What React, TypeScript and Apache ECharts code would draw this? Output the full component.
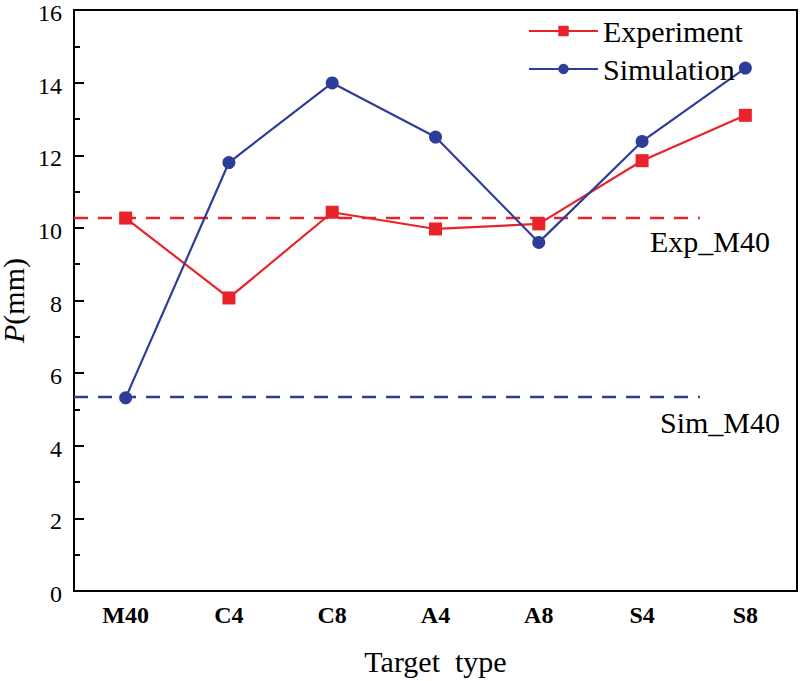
import React, { useEffect, useRef } from "react";
import * as echarts from "echarts";

const categories = ["M40", "C4", "C8", "A4", "A8", "S4", "S8"];
const experiment = [10.27, 8.07, 10.43, 9.97, 10.11, 11.85, 13.1];
const simulation = [5.32, 11.8, 13.99, 12.5, 9.6, 12.38, 14.4];
const expM40 = 10.27;
const simM40 = 5.34;
const refLineEnd = 5.56; // category position where reference lines stop
const yTicks = { min: 0, max: 16, interval: 2 };

const FONT = "'Liberation Serif', 'Times New Roman', serif";
const RED = "#e8232a";
const BLUE = "#2e3d98";

export default function App() {
  const ref = useRef<HTMLDivElement>(null);
  useEffect(() => {
    if (!ref.current) return;
    const chart = echarts.init(ref.current, null, { renderer: "svg" });
    chart.setOption({
      animation: false,
      backgroundColor: "#ffffff",
      grid: {
        left: 74,
        top: 10,
        right: 5,
        bottom: 90,
        containLabel: false,
        outerBoundsMode: "none",
        show: true,
        borderColor: "#000",
        borderWidth: 2,
      },
      legend: {
        data: ["Experiment", "Simulation"],
        orient: "vertical",
        left: 528,
        top: 16,
        itemWidth: 69,
        itemHeight: 13,
        itemGap: 8,
        padding: 0,
        textStyle: { fontFamily: FONT, fontSize: 30, color: "#000", lineHeight: 28 },
      },
      xAxis: [
        {
          type: "category",
          data: categories,
          boundaryGap: true,
          name: "Target  type",
          nameLocation: "middle",
          nameGap: 55,
          nameMoveOverlap: false,
          nameTextStyle: { fontFamily: FONT, fontSize: 30, color: "#000" },
          axisLine: { onZero: false, lineStyle: { color: "#000", width: 2 } },
          axisTick: { alignWithLabel: true, inside: true, length: 10, lineStyle: { color: "#000", width: 2 } },
          axisLabel: { fontFamily: FONT, fontSize: 24, fontWeight: "bold", color: "#000", margin: 12 },
          splitLine: { show: false },
        },
        {
          type: "value",
          min: -0.5,
          max: 6.5,
          show: false,
          position: "bottom",
        },
      ],
      yAxis: {
        type: "value",
        min: yTicks.min,
        max: yTicks.max,
        interval: yTicks.interval,
        name: "{i|P}(mm)",
        nameLocation: "middle",
        nameGap: 46,
        nameMoveOverlap: false,
        nameRotate: 90,
        nameTextStyle: {
          fontFamily: FONT,
          fontSize: 30,
          color: "#000",
          rich: { i: { fontFamily: FONT, fontSize: 30, fontStyle: "italic", color: "#000" } },
        },
        axisLine: { show: true, onZero: false, lineStyle: { color: "#000", width: 2 } },
        axisTick: { inside: true, length: 10, lineStyle: { color: "#000", width: 2 } },
        minorTick: { show: true, splitNumber: 2, length: 6, lineStyle: { color: "#000", width: 2 } },
        axisLabel: {
          fontFamily: FONT,
          fontSize: 24,
          color: "#000",
          margin: 12,
          formatter: "{a|{value}}",
          rich: { a: { fontFamily: FONT, fontSize: 24, color: "#000", padding: [6, 0, 0, 0] } },
        },
        splitLine: { show: false },
      },
      series: [
        {
          name: "Exp_M40",
          type: "line",
          xAxisIndex: 1,
          data: [[-0.5, expM40], [refLineEnd, expM40]],
          symbol: "none",
          lineStyle: { color: RED, width: 2.5, type: [14, 10] },
          z: 1,
        },
        {
          name: "Sim_M40",
          type: "line",
          xAxisIndex: 1,
          data: [[-0.5, simM40], [refLineEnd, simM40]],
          symbol: "none",
          lineStyle: { color: BLUE, width: 2.5, type: [14, 10] },
          z: 1,
        },
        {
          name: "Experiment",
          type: "line",
          data: experiment,
          symbol: "rect",
          symbolSize: 13,
          itemStyle: { color: RED },
          lineStyle: { color: RED, width: 2.2 },
          z: 3,
        },
        {
          name: "Simulation",
          type: "line",
          data: simulation,
          symbol: "circle",
          symbolSize: 13,
          itemStyle: { color: BLUE },
          lineStyle: { color: BLUE, width: 2.2 },
          z: 3,
        },
      ],
      graphic: [
        {
          type: "text",
          left: 650,
          top: 226,
          style: { text: "Exp_M40", font: `30px ${FONT}`, fill: "#000" },
        },
        {
          type: "text",
          left: 660,
          top: 407,
          style: { text: "Sim_M40", font: `30px ${FONT}`, fill: "#000" },
        },
      ],
    });
    return () => chart.dispose();
  }, []);
  return (
    <div
      ref={ref}
      style={{ position: "fixed", left: 0, top: 0, width: 802, height: 681, background: "#fff" }}
    />
  );
}
